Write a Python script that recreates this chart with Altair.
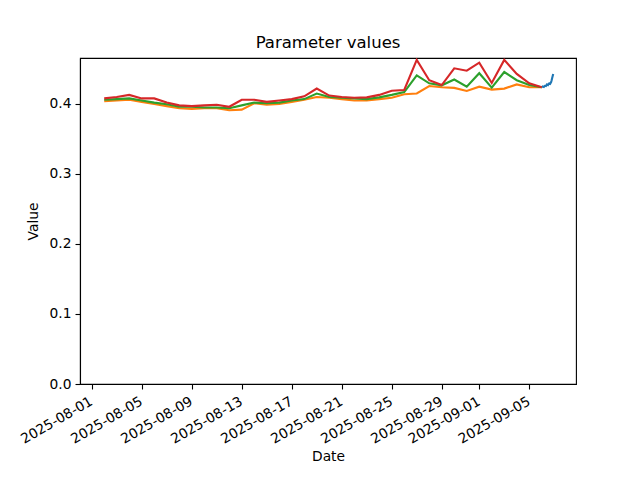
import altair as alt
import pandas as pd

# Daily series, 2025-08-02 .. 2025-09-06
days = pd.date_range("2025-08-02", "2025-09-06", freq="D").strftime("%Y-%m-%dT%H:%M:%S").tolist()

orange_vals = [0.404, 0.405, 0.406, 0.403, 0.400, 0.397, 0.394, 0.393, 0.394, 0.394,
               0.391, 0.392, 0.401, 0.399, 0.400, 0.403, 0.406, 0.410, 0.409, 0.407,
               0.405, 0.405, 0.407, 0.409, 0.414, 0.415, 0.4257, 0.424, 0.423, 0.4186,
               0.4247, 0.4205, 0.422, 0.428, 0.424, 0.424]
green_vals = [0.406, 0.407, 0.408, 0.405, 0.402, 0.3996, 0.396, 0.396, 0.395, 0.395,
              0.394, 0.398, 0.402, 0.401, 0.402, 0.405, 0.407, 0.415, 0.410, 0.409,
              0.408, 0.407, 0.4095, 0.413, 0.417, 0.441, 0.4295, 0.4267, 0.435, 0.4247,
              0.444, 0.4233, 0.4457, 0.434, 0.427, 0.424]
red_vals = [0.408, 0.410, 0.413, 0.408, 0.408, 0.402, 0.398, 0.397, 0.398, 0.399,
            0.396, 0.406, 0.406, 0.403, 0.405, 0.407, 0.411, 0.422, 0.412, 0.410,
            0.409, 0.4095, 0.413, 0.419, 0.420, 0.463, 0.434, 0.427, 0.451, 0.4476,
            0.459, 0.430, 0.463, 0.443, 0.4295, 0.424]

# Intraday series on 2025-09-06 (hour offsets)
blue_hours = [0, 2, 4, 6, 8, 10, 12, 14, 16, 18, 19, 20, 21, 22]
blue_vals = [0.424, 0.425, 0.4243, 0.426, 0.4257, 0.4279, 0.4271, 0.4293, 0.4286,
             0.4314, 0.434, 0.437, 0.440, 0.443]
blue_times = [(pd.Timestamp("2025-09-06") + pd.Timedelta(hours=h)).strftime("%Y-%m-%dT%H:%M:%S")
              for h in blue_hours]

tick_dates = ["2025-08-01", "2025-08-05", "2025-08-09", "2025-08-13", "2025-08-17",
              "2025-08-21", "2025-08-25", "2025-08-29", "2025-09-01", "2025-09-05"]
y_ticks = [0.0, 0.1, 0.2, 0.3, 0.4]

frames = [
    pd.DataFrame({"date": blue_times, "value": blue_vals, "series": "s0"}),
    pd.DataFrame({"date": days, "value": orange_vals, "series": "s1"}),
    pd.DataFrame({"date": days, "value": green_vals, "series": "s2"}),
    pd.DataFrame({"date": days, "value": red_vals, "series": "s3"}),
]
colors = ["#1f77b4", "#ff7f0e", "#2ca02c", "#d62728"]

x_enc = alt.X(
    "date:T",
    title="Date",
    scale=alt.Scale(domain=[alt.DateTime(year=2025, month=7, date=31, hours=1, minutes=30),
                            alt.DateTime(year=2025, month=9, date=8, hours=17, minutes=45)]),
    axis=alt.Axis(
        values=[alt.DateTime(year=int(d[:4]), month=int(d[5:7]), date=int(d[8:])) for d in tick_dates],
        format="%Y-%m-%d", labelAngle=-30, labelAlign="right", labelBaseline="top",
        labelOverlap=False, labelFlush=False, labelBound=False, labelOffset=-4,
        labelPadding=5, titlePadding=3,
    ),
)
y_enc = alt.Y(
    "value:Q",
    title="Value",
    scale=alt.Scale(domain=[0, 0.4657], nice=False, zero=True),
    axis=alt.Axis(values=y_ticks, format=".1f", titlePadding=9, labelOverlap=False),
)

layers = [
    alt.Chart(df).mark_line(color=c, strokeWidth=2.1, clip=True).encode(x=x_enc, y=y_enc)
    for df, c in zip(frames, colors)
]

chart = alt.layer(*layers).properties(
    width=496,
    height=326,
    title=alt.Title("Parameter values", fontSize=16.5, fontWeight="normal",
                    font="DejaVu Sans", color="black", offset=7),
    autosize=alt.AutoSizeParams(type="none"),
    padding={"left": 72, "top": 50, "right": 50, "bottom": 80},
).configure_view(
    stroke="black", strokeWidth=1.1
).configure_axis(
    grid=False, domainColor="black", domainWidth=1.1, tickColor="black", tickWidth=1.1,
    tickSize=5, labelPadding=4, labelFont="DejaVu Sans", labelFontSize=13.8,
    labelColor="black", titleFont="DejaVu Sans", titleFontSize=13.8,
    titleFontWeight="normal", titleColor="black",
)

chart.save("out.html", embed_options={"renderer": "svg", "actions": False})
